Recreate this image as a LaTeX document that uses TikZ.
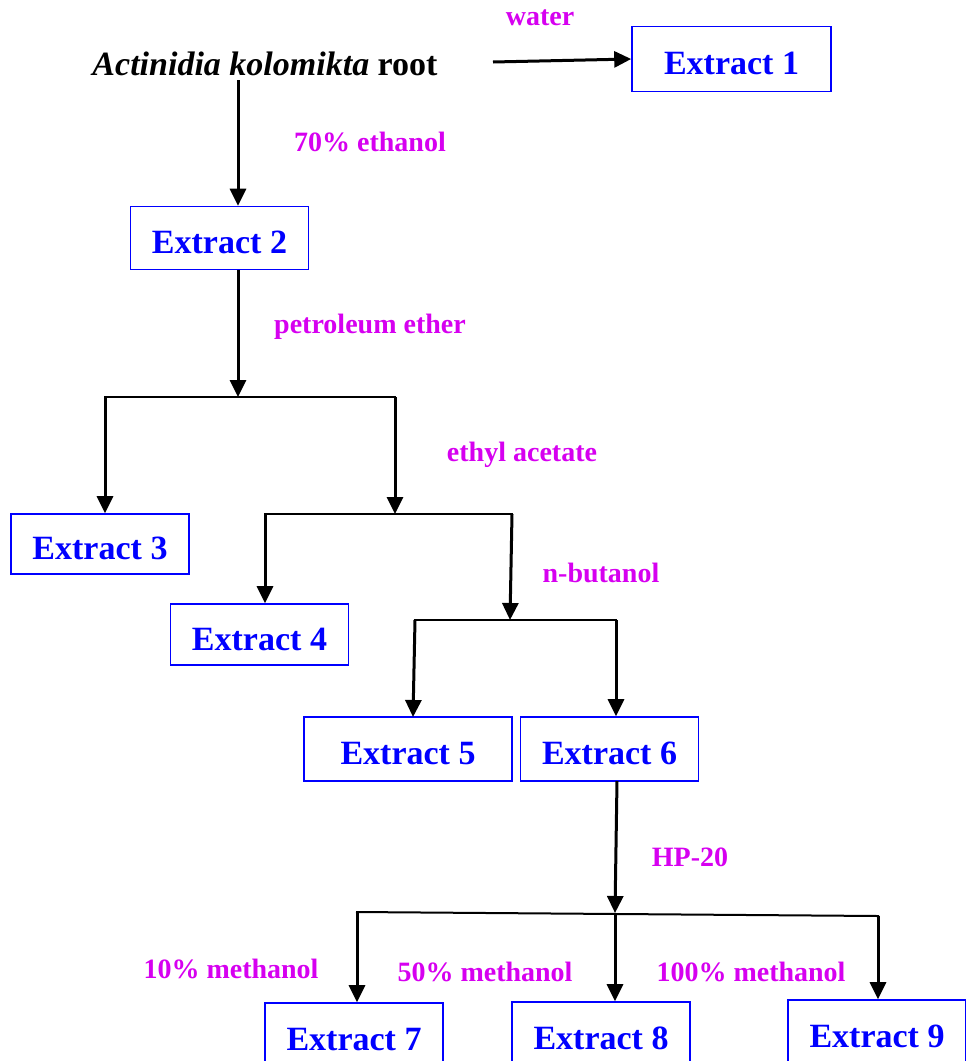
\documentclass[tikz,border=0pt]{standalone}
\usepackage{fontspec}
\setmainfont{Liberation Serif}
\usetikzlibrary{arrows.meta}
\definecolor{lab}{RGB}{214,0,240}
\definecolor{boxblue}{RGB}{0,0,255}
\tikzset{
  xbox/.style={draw=boxblue, line width=1.6pt, text=boxblue, font=\fontsize{34}{36}\selectfont\bfseries,
    minimum width=178pt, minimum height=63pt, inner sep=0pt, anchor=center,
    text height=31pt, text depth=0pt},
  lbl/.style={text=lab, font=\fontsize{28}{30}\selectfont\bfseries, inner sep=0pt, anchor=center},
  arr/.style={line width=3pt, -{Triangle[length=17pt,width=16pt]}},
  branch/.style={line width=2pt, line cap=rect},
}
\begin{document}
\begin{tikzpicture}[x=1pt,y=-1pt]
\path[use as bounding box, clip] (0,0) rectangle (966,1061);
% nodes
\node[inner sep=0pt, font=\fontsize{34}{36}\selectfont\bfseries] (root) at (265,64) {\textit{Actinidia kolomikta} root};
\node[xbox, minimum width=199pt, minimum height=65pt] (x1) at (731.5,59) {Extract 1};
\node[xbox] (x2) at (219.5,238) {Extract 2};
\node[xbox, minimum height=60pt] (x3) at (100,544) {Extract 3};
\node[xbox, minimum height=61pt] (x4) at (259.5,634.5) {Extract 4};
\node[xbox, minimum width=208pt, minimum height=64pt] (x5) at (408,749) {Extract 5};
\node[xbox, minimum height=64pt] (x6) at (609.5,749) {Extract 6};
\node[xbox, minimum height=64pt] (x7) at (354,1035) {Extract 7};
\node[xbox, minimum height=64pt] (x8) at (601,1034) {Extract 8};
\node[xbox, minimum height=64pt] (x9) at (877,1032) {Extract 9};
% labels
\node[lbl] (lw) at (540,18) {water};
\node[lbl] (le) at (370,142) {70\% ethanol};
\node[lbl] (lp) at (370,327) {petroleum ether};
\node[lbl] (la) at (522,455) {ethyl acetate};
\node[lbl] (lb) at (601,573) {n-butanol};
\node[lbl] (lh) at (690,857) {HP-20};
\node[lbl] (l10) at (231,969) {10\% methanol};
\node[lbl] (l50) at (485,972) {50\% methanol};
\node[lbl] (l100) at (751,972) {100\% methanol};
% coordinates
\coordinate (ws) at (493,62);
\coordinate (rs) at (238,80);
\coordinate (j1) at (238,397);
\coordinate (j1l) at (105,397);
\coordinate (j1r) at (395,397);
\coordinate (j2) at (395,514);
\coordinate (j2l) at (265,514);
\coordinate (j2r) at (512,514);
\coordinate (j3) at (510,620);
\coordinate (j3l) at (415,620);
\coordinate (j3r) at (616,620);
\coordinate (x5t) at (413,717);
\coordinate (x6b) at (617,781);
\coordinate (j4) at (615,913);
\coordinate (j4l) at (357,912);
\coordinate (j4r) at (878,916);
% connectors
\draw[arr] (ws) -- (x1.west);
\draw[arr] (rs) -- (rs |- x2.north);
\draw[arr] (x2.south -| rs) -- (j1);
\draw[branch] (j1l) -- (j1r);
\draw[arr] (j1l) -- (j1l |- x3.north);
\draw[arr] (j1r) -- (j2);
\draw[branch] (j2l) -- (j2r);
\draw[arr] (j2l) -- (j2l |- x4.north);
\draw[arr] (j2r) -- (j3);
\draw[branch] (j3l) -- (j3r);
\draw[arr] (j3l) -- (x5t);
\draw[arr] (j3r) -- (j3r |- x6.north);
\draw[arr] (x6b) -- (j4);
\draw[branch] (j4l) -- (j4r);
\draw[arr] (j4l) -- (j4l |- x7.north);
\draw[arr] (j4) -- (j4 |- x8.north);
\draw[arr] (j4r) -- (j4r |- x9.north);
\end{tikzpicture}
\end{document}
